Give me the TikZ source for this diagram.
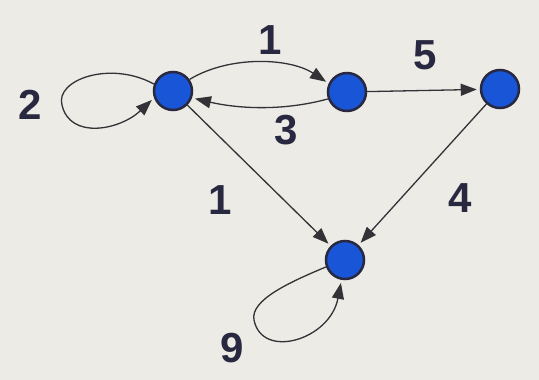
\documentclass[tikz,border=0pt]{standalone}
\usepackage{fontspec}
\setmainfont{Liberation Sans}
\usetikzlibrary{arrows.meta}
\definecolor{paper}{RGB}{236,235,229}
\definecolor{ink}{RGB}{40,40,65}
\definecolor{vblue}{RGB}{25,85,215}
\definecolor{edgec}{RGB}{50,50,55}
\begin{document}
\begin{tikzpicture}[x=1pt,y=-1pt,
  vert/.style={circle,fill=vblue,draw=ink,line width=2.5pt,minimum size=38pt,inner sep=0pt},
  edge/.style={draw=edgec,line width=1.3pt,shorten >=3pt,-{Triangle[length=16pt,width=12pt]}},
  lbl/.style={text=ink,font=\fontsize{42}{42}\selectfont\bfseries,inner sep=0pt}]
\fill[paper] (0,0) rectangle (539,380);
\useasboundingbox (0,0) rectangle (539,380);
\node[vert] (a) at (173,91) {};
\node[vert] (b) at (347,92) {};
\node[vert] (c) at (500,89) {};
\node[vert] (d) at (345,260) {};
\draw[edge] (a.35) .. controls (230,55) and (290,58) .. (b.155);
\draw[edge] (b.200) .. controls (280,112) and (235,108) .. (a.-20);
\draw[edge] (b) -- (c);
\draw[edge] (a) -- (d);
\draw[edge] (c) -- (d);
\draw[edge] (a.160) .. controls (110,60) and (55,80) .. (62,105) .. controls (70,140) and (120,130) .. (a.200);
\draw[edge] (d.200) .. controls (290,282) and (250,300) .. (254,320) .. controls (262,360) and (330,340) .. (d.260);
\node[lbl] (l1) at (270,40) {1};
\node[lbl] (l3) at (286,130) {3};
\node[lbl] (l5) at (425,55) {5};
\node[lbl] (l1b) at (220,200) {1};
\node[lbl] (l4) at (460,198) {4};
\node[lbl] (l2) at (30,105) {2};
\node[lbl] (l9) at (232,348) {9};
\end{tikzpicture}
\end{document}
